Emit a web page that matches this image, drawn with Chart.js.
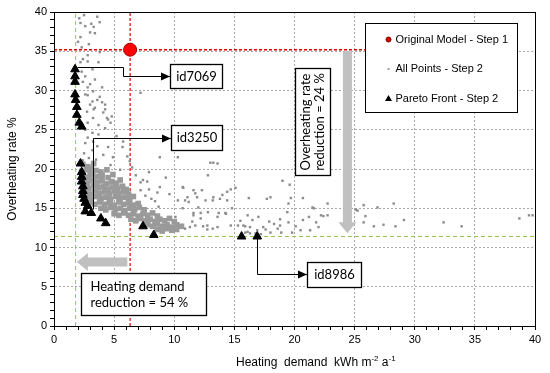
<!DOCTYPE html>
<html>
<head>
<meta charset="utf-8">
<title>Heating demand vs overheating rate</title>
<script src="https://cdn.jsdelivr.net/npm/chart.js@4.4.1/dist/chart.umd.min.js"></script>
<style>
  html, body { margin: 0; padding: 0; background: #fff; }
  #wrap { width: 550px; height: 373px; }
</style>
</head>
<body>
<div id="wrap"><canvas id="chart" width="550" height="373"></canvas></div>
<script>
// Step 1 model
const originalModel = [[6.33, 35.2]];
// best values reached in step 2 (green guide lines)
const bestHeating = 1.8;
const bestOverheating = 11.4;

const paretoFront = [
  [1.75, 32.7], [1.75, 31.8], [1.75, 31.1], [1.75, 29.5], [1.8, 28.8], [1.9, 27.9], [1.9, 26.9], [2.1, 25.9], [2.3, 25.4],
  [2.2, 20.7], [2.3, 19.6], [2.3, 19.0], [2.3, 18.4], [2.4, 17.8], [2.4, 17.2], [2.4, 16.7], [2.5, 16.2], [2.6, 15.7],
  [2.8, 15.3], [2.6, 14.6], [3.1, 14.4], [3.9, 13.7], [4.3, 13.1], [7.4, 12.7], [8.3, 11.6], [15.6, 11.4], [16.9, 11.4]
];

// all simulated designs, scattered part
const allPoints = [
  [2.2, 38.6], [2.6, 38.2], [3.1, 38.5], [3.3, 38.1], [3.8, 38.7], [3.6, 39.4], [3.4, 37.3], [2.2, 36.8], [2.0, 36.2], [3.0, 37.4],
  [2.5, 39.6], [2.1, 39.2], [2.8, 34.5], [2.4, 34.0], [2.2, 33.6], [3.8, 34.9], [2.8, 33.7], [3.7, 33.6], [2.3, 32.4], [3.2, 32.7],
  [2.6, 31.8], [3.4, 31.4], [2.4, 31.1], [3.0, 30.8], [2.8, 30.4], [4.0, 30.4], [3.25, 29.9], [2.6, 29.5], [2.8, 29.4], [3.8, 29.2],
  [3.6, 28.8], [3.2, 28.6], [4.0, 28.5], [3.0, 28.2], [4.25, 28.2], [3.4, 27.8], [4.25, 27.6], [3.3, 27.6], [4.1, 27.2], [2.75, 27.3],
  [4.8, 26.7], [3.25, 26.5], [4.4, 26.5], [4.5, 26.3], [4.7, 25.9], [2.8, 25.9], [3.7, 25.6], [4.25, 25.2], [2.6, 25.0], [3.2, 24.6],
  [3.7, 24.4], [2.8, 24.0], [3.25, 23.5], [2.6, 23.3], [3.2, 22.4], [4.5, 22.8], [5.7, 22.8], [5.75, 23.5], [4.1, 21.8], [4.7, 20.5],
  [2.5, 22.0], [3.6, 22.9], [2.9, 21.4], [3.5, 21.2], [2.4, 21.1], [7.2, 29.7], [5.2, 24.2], [4.9, 21.5], [6.3, 21.0], [2.3, 35.5],
  [2.9, 35.9],
  [5.5, 19.9], [7.2, 18.3], [8.6, 17.0], [8.8, 17.7], [10.3, 21.5], [8.8, 21.5], [7.4, 18.6], [7.75, 18.4], [7.2, 17.3], [8.4, 15.9],
  [6.8, 19.2], [6.5, 20.2], [7.9, 19.6], [9.3, 18.9], [6.1, 21.6], [9.6, 16.8], [7.6, 16.6], [8.1, 16.2], [7.9, 17.4], [8.7, 15.2],
  [11.1, 16.4], [12.0, 15.1], [11.6, 14.4], [13.2, 16.0], [13.25, 20.8], [13.6, 20.7], [14.25, 14.4], [15.1, 17.6], [12.4, 12.7], [12.75, 12.3],
  [13.6, 12.6], [12.8, 19.2], [10.75, 17.6], [11.75, 16.9], [12.3, 17.3], [14.0, 16.7], [14.4, 17.1], [14.7, 17.4], [10.3, 16.0], [11.2, 15.8],
  [13.8, 16.2], [14.8, 15.0], [12.8, 14.5], [13.6, 13.9], [12.2, 13.7], [11.75, 12.8], [13.2, 12.4], [10.7, 15.0], [10.1, 13.9], [10.7, 17.7],
  [11.6, 17.3], [11.9, 16.4], [10.9, 16.0], [12.6, 16.0], [13.25, 16.4], [14.4, 16.0], [13.7, 14.4], [12.2, 14.4], [11.6, 14.1], [11.3, 12.6],
  [12.75, 12.8], [14.7, 12.8], [10.9, 12.4], [11.5, 13.3], [14.3, 14.3], [13.0, 20.8],
  [16.1, 14.1], [16.3, 12.6], [16.9, 12.2], [15.9, 12.7], [16.5, 13.5], [17.0, 13.9], [18.8, 13.6], [19.4, 14.5], [19.5, 15.6], [21.6, 15.0],
  [22.2, 14.1], [22.75, 14.1], [19.0, 18.5], [19.6, 18.0], [18.0, 16.4], [17.7, 16.2], [16.2, 16.3], [19.7, 16.3], [20.7, 16.3], [22.75, 15.6],
  [21.5, 15.1], [17.4, 12.6], [18.8, 12.8], [18.9, 11.9], [19.8, 11.9], [20.5, 12.2], [21.3, 12.2], [22.0, 12.6], [19.5, 13.2], [20.7, 13.5],
  [21.2, 13.9], [22.4, 14.0], [18.6, 12.4], [18.0, 11.9], [16.3, 11.8], [16.75, 11.8], [15.3, 12.8], [15.75, 12.8], [17.6, 12.3], [16.1, 12.0],
  [17.2, 11.7], [15.9, 11.9], [18.3, 13.0], [20.1, 12.7], [21.8, 13.2], [17.9, 13.3], [15.5, 13.4],
  [25.75, 15.4], [26.9, 15.1], [28.25, 15.6], [25.9, 14.0], [25.75, 13.2], [26.6, 12.7], [27.4, 12.9], [28.4, 12.7], [29.1, 13.5], [32.4, 13.2],
  [33.9, 12.7], [38.7, 13.7], [39.5, 14.1], [39.8, 14.1], [25.25, 14.7], [25.1, 14.8]
];

// all simulated designs, dense cloud right of the front
const allPointsDense = [
  [2.4, 20.6], [2.8, 20.3], [3.3, 20.7], [3.1, 20.1],
  [2.3, 19.7], [2.7, 19.9], [3.0, 19.5], [3.5, 19.8], [3.9, 19.6], [4.4, 19.9],
  [2.4, 19.2], [2.8, 18.9], [3.2, 19.3], [3.6, 19.0], [4.0, 19.2], [4.5, 18.9], [4.9, 19.3],
  [2.5, 18.5], [2.8, 18.2], [3.2, 18.6], [3.6, 18.3], [4.0, 18.5], [4.4, 18.1], [4.8, 18.4], [5.2, 18.2], [5.5, 18.6],
  [2.5, 17.8], [2.9, 17.5], [3.3, 17.9], [3.7, 17.6], [4.1, 17.8], [4.5, 17.4], [4.9, 17.7], [5.3, 17.5], [5.7, 17.8], [6.0, 17.4],
  [2.6, 17.1], [3.0, 16.8], [3.4, 17.2], [3.8, 16.9], [4.2, 17.1], [4.6, 16.8], [5.0, 17.2], [5.4, 16.9], [5.8, 17.1], [6.2, 16.8],
  [2.7, 16.4], [3.1, 16.1], [3.5, 16.5], [3.9, 16.2], [4.3, 16.4], [4.7, 16.1], [5.1, 16.5], [5.5, 16.2], [5.9, 16.4], [6.3, 16.1], [6.6, 16.5],
  [3.0, 15.7], [3.4, 15.5], [3.8, 15.8], [4.2, 15.5], [4.6, 15.7], [5.0, 15.4], [5.4, 15.8], [5.8, 15.5], [6.2, 15.7], [6.6, 15.4], [7.0, 15.6],
  [3.9, 15.0], [4.3, 14.8], [4.7, 15.1], [5.1, 14.8], [5.5, 15.0], [5.9, 14.7], [6.3, 15.0], [6.7, 14.8], [7.1, 15.1], [7.5, 14.8],
  [5.0, 14.3], [5.4, 14.1], [5.8, 14.4], [6.2, 14.1], [6.6, 14.3], [7.0, 14.0], [7.4, 14.3], [7.8, 14.1], [8.2, 14.4], [8.6, 14.0],
  [6.4, 13.6], [6.8, 13.4], [7.2, 13.7], [7.6, 13.4], [8.0, 13.6], [8.4, 13.3], [8.8, 13.6], [9.2, 13.4], [9.6, 13.7], [10.0, 13.3],
  [7.8, 12.9], [8.2, 12.7], [8.6, 13.0], [9.0, 12.7], [9.4, 12.9], [9.8, 12.6], [10.2, 12.9], [10.6, 12.7],
  [8.6, 12.3], [9.0, 12.1], [9.4, 12.4], [9.8, 12.2], [10.2, 12.3]
];

const legendLabels = ['Original Model - Step 1', 'All Points - Step 2', 'Pareto Front - Step 2'];

// annotation boxes and call-outs, in axis units
const labelBoxes = [
  { text: ['id7069'], x1: 9.64, y1: 33.38, x2: 13.97, y2: 30.32 },
  { text: ['id3250'], x1: 9.73, y1: 25.61, x2: 13.97, y2: 22.42 },
  { text: ['id8986'], x1: 21.03, y1: 8.15, x2: 25.52, y2: 4.97 },
  { text: ['Heating demand', 'reduction = 54 %'], x1: 2.24, y1: 6.75, x2: 12.63, y2: 1.4, align: 'left' },
  { text: ['Overheating rate', 'reduction = 24 %'], x1: 20.03, y1: 32.87, x2: 22.94, y2: 19.24, rotate: true }
];
const callouts = [
  [[1.9, 33.0], [5.75, 33.0], [5.75, 31.85], [9.64, 31.85]],
  [[3.25, 14.9], [3.25, 24.0], [9.73, 24.0]],
  [[16.9, 11.3], [16.9, 6.6], [21.03, 6.6]]
];
const reductionArrows = [
  { from: [24.4, 35.0], to: [24.4, 11.8] },
  { from: [6.1, 8.15], to: [1.9, 8.15] }
];
const legendBox = { x1: 25.85, y1: 38.6, x2: 38.49, y2: 27.3 };

const toXY = (arr) => arr.map(p => ({ x: p[0], y: p[1] }));

function grayArrow(ctx, x1, y1, x2, y2) {
  const ang = Math.atan2(y2 - y1, x2 - x1);
  const len = Math.hypot(x2 - x1, y2 - y1);
  const shaft = 9, head = 18, headLen = 11;
  ctx.save();
  ctx.translate(x1, y1);
  ctx.rotate(ang);
  ctx.beginPath();
  ctx.moveTo(0, -shaft / 2);
  ctx.lineTo(len - headLen, -shaft / 2);
  ctx.lineTo(len - headLen, -head / 2);
  ctx.lineTo(len, 0);
  ctx.lineTo(len - headLen, head / 2);
  ctx.lineTo(len - headLen, shaft / 2);
  ctx.lineTo(0, shaft / 2);
  ctx.closePath();
  ctx.fillStyle = '#c0c0c0';
  ctx.fill();
  ctx.restore();
}

const annotations = {
  id: 'annotations',
  afterDatasetsDraw(chart) {
    const { ctx, chartArea: a, scales } = chart;
    const px = v => scales.x.getPixelForValue(v);
    const py = v => scales.y.getPixelForValue(v);

    // frame round the plot
    ctx.save();
    ctx.strokeStyle = '#000';
    ctx.lineWidth = 1;
    ctx.strokeRect(Math.round(a.left) + 0.5, Math.round(a.top) + 0.5, Math.round(a.right - a.left), Math.round(a.bottom - a.top));

    reductionArrows.forEach(r => grayArrow(ctx, px(r.from[0]), py(r.from[1]), px(r.to[0]), py(r.to[1])));

    // black call-out lines with arrow heads
    ctx.strokeStyle = '#000';
    ctx.fillStyle = '#000';
    callouts.forEach(path => {
      ctx.beginPath();
      path.forEach((p, i) => {
        const x = Math.round(px(p[0])) + 0.5, y = Math.round(py(p[1])) + 0.5;
        if (i === 0) ctx.moveTo(x, y); else ctx.lineTo(x, y);
      });
      ctx.stroke();
      const end = path[path.length - 1];
      const ex = Math.round(px(end[0])), ey = Math.round(py(end[1])) + 0.5;
      ctx.beginPath();
      ctx.moveTo(ex, ey);
      ctx.lineTo(ex - 9, ey - 4);
      ctx.lineTo(ex - 9, ey + 4);
      ctx.closePath();
      ctx.fill();
    });

    // text boxes
    labelBoxes.forEach(b => {
      const x1 = Math.round(px(b.x1)) + 0.5, y1 = Math.round(py(b.y1)) + 0.5;
      const x2 = Math.round(px(b.x2)) + 0.5, y2 = Math.round(py(b.y2)) + 0.5;
      ctx.fillStyle = '#fff';
      ctx.fillRect(x1, y1, x2 - x1, y2 - y1);
      ctx.strokeStyle = '#000';
      ctx.lineWidth = 1.3;
      ctx.strokeRect(x1, y1, x2 - x1, y2 - y1);
      ctx.fillStyle = '#000';
      ctx.font = '13px Lato, "Open Sans", sans-serif';
      ctx.textBaseline = 'middle';
      const cx = (x1 + x2) / 2, cy = (y1 + y2) / 2;
      const n = b.text.length, lh = 16;
      if (b.rotate) {
        ctx.save();
        ctx.translate(cx, cy);
        ctx.rotate(-Math.PI / 2);
        ctx.textAlign = 'center';
        b.text.forEach((t, i) => ctx.fillText(t, 0, (i - (n - 1) / 2) * 14));
        ctx.restore();
      } else if (b.align === 'left') {
        ctx.textAlign = 'left';
        b.text.forEach((t, i) => ctx.fillText(t, x1 + 9, cy + (i - (n - 1) / 2) * lh));
      } else {
        ctx.textAlign = 'center';
        b.text.forEach((t, i) => ctx.fillText(t, cx, cy + (i - (n - 1) / 2) * lh));
      }
    });

    // legend
    const lx1 = Math.round(px(legendBox.x1)) + 0.5, ly1 = Math.round(py(legendBox.y1)) + 0.5;
    const lx2 = Math.round(px(legendBox.x2)) + 0.5, ly2 = Math.round(py(legendBox.y2)) + 0.5;
    ctx.fillStyle = '#fff';
    ctx.fillRect(lx1, ly1, lx2 - lx1, ly2 - ly1);
    ctx.strokeStyle = '#000';
    ctx.lineWidth = 1;
    ctx.strokeRect(lx1, ly1, lx2 - lx1, ly2 - ly1);
    ctx.font = '11px "Liberation Sans", Arial, sans-serif';
    ctx.textAlign = 'left';
    ctx.textBaseline = 'middle';
    legendLabels.forEach((label, i) => {
      const y = ly1 + 16 + i * 29.5;
      const mx = lx1 + 23;
      if (i === 0) {
        ctx.beginPath();
        ctx.arc(mx, y, 2.5, 0, Math.PI * 2);
        ctx.fillStyle = '#e00000';
        ctx.fill();
        ctx.strokeStyle = '#800000';
        ctx.stroke();
      } else if (i === 1) {
        ctx.fillStyle = '#a0a0a0';
        ctx.fillRect(mx - 1, y - 1, 2, 2);
      } else {
        ctx.beginPath();
        ctx.moveTo(mx, y - 3.5);
        ctx.lineTo(mx + 3.5, y + 2.5);
        ctx.lineTo(mx - 3.5, y + 2.5);
        ctx.closePath();
        ctx.fillStyle = '#000';
        ctx.fill();
      }
      ctx.fillStyle = '#000';
      ctx.fillText(label, lx1 + 30, y);
    });

    // axis titles
    ctx.fillStyle = '#000';
    ctx.textBaseline = 'alphabetic';
    ctx.textAlign = 'left';
    let tx = 236;
    const ty = 366;
    const parts = [['Heating  demand  kWh m', 0], ['-2', 1], [' a', 0], ['-1', 1]];
    parts.forEach(([t, sup]) => {
      ctx.font = sup ? '8px "Liberation Sans", Arial, sans-serif' : '12px "Liberation Sans", Arial, sans-serif';
      ctx.fillText(t, tx, sup ? ty - 5 : ty);
      tx += ctx.measureText(t).width;
    });
    ctx.save();
    ctx.translate(13, (a.top + a.bottom) / 2);
    ctx.rotate(-Math.PI / 2);
    ctx.textAlign = 'center';
    ctx.textBaseline = 'middle';
    ctx.font = '12px "Liberation Sans", Arial, sans-serif';
    ctx.fillText('Overheating rate %', 0, 0);
    ctx.restore();
    ctx.restore();
  }
};

const axisOpts = (fitKey, fitValue) => ({
  type: 'linear',
  min: 0,
  max: 40,
  ticks: {
    stepSize: 1,
    autoSkip: false,
    maxRotation: 0,
    padding: 3,
    color: '#000',
    font: { family: '"Liberation Sans", Arial, sans-serif', size: 11 },
    callback: (v) => (v % 5 === 0 ? String(v) : '')
  },
  grid: {
    color: (c) => (c.tick && c.tick.value % 5 === 0 && c.tick.value > 0 && c.tick.value < 40 ? '#a8a8a8' : 'rgba(0,0,0,0)'),
    tickColor: '#000',
    tickLength: 4,
    lineWidth: 1
  },
  border: { display: true, color: '#000', width: 1, dash: [2, 2] },
  afterFit: (scale) => { scale[fitKey] = fitValue; }
});

const guide = (pts, color, dash, width) => ({
  type: 'line',
  data: toXY(pts),
  showLine: true,
  borderColor: color,
  borderWidth: width,
  borderDash: dash,
  pointRadius: 0,
  fill: false
});

const chart = new Chart(document.getElementById('chart').getContext('2d'), {
  type: 'scatter',
  data: {
    datasets: [
      {
        label: legendLabels[0],
        data: toXY(originalModel),
        pointStyle: 'circle',
        pointRadius: 6.5,
        backgroundColor: '#ff0000',
        borderColor: '#a00000',
        borderWidth: 1
      },
      {
        label: legendLabels[2],
        data: toXY(paretoFront),
        pointStyle: 'triangle',
        pointRadius: 5,
        backgroundColor: '#000',
        borderColor: '#000',
        borderWidth: 1
      },
      {
        label: legendLabels[1],
        data: toXY(allPoints),
        pointStyle: 'rect',
        pointRadius: 1.7,
        backgroundColor: '#8c8c8c',
        borderWidth: 0
      },
      {
        label: legendLabels[1],
        data: toXY(allPointsDense),
        pointStyle: 'rect',
        pointRadius: 4,
        backgroundColor: '#9a9a9a',
        borderWidth: 0
      },
      guide([[originalModel[0][0], 0], [originalModel[0][0], 40]], '#e00000', [3, 2], 1.2),
      guide([[0, originalModel[0][1]], [26.5, originalModel[0][1]]], '#e00000', [3, 2], 1.6),
      guide([[bestHeating, 0], [bestHeating, 40]], '#92c84a', [4, 3], 1),
      guide([[0, bestOverheating], [40, bestOverheating]], '#92c84a', [4, 3], 1)
    ]
  },
  options: {
    responsive: false,
    animation: false,
    devicePixelRatio: 1,
    layout: { padding: { left: 0, right: 15, top: 12, bottom: 0 } },
    plugins: {
      legend: { display: false },
      tooltip: { enabled: false }
    },
    scales: {
      x: axisOpts('height', 47),
      y: axisOpts('width', 54)
    }
  },
  plugins: [annotations]
});
</script>
</body>
</html>
